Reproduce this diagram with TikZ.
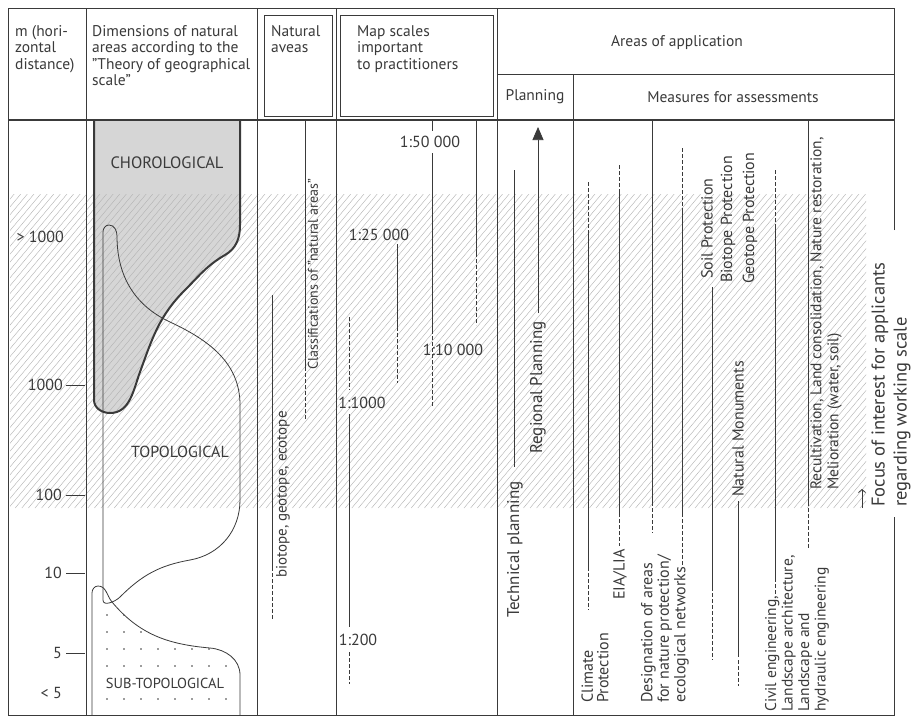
\documentclass[tikz,border=0pt]{standalone}
\usepackage{fontspec}
\setmainfont{PT Sans}
\usetikzlibrary{arrows.meta}
\definecolor{inkc}{HTML}{3A3A3A}
\definecolor{chfill}{HTML}{D6D6D6}
\definecolor{hatchc}{HTML}{B2B2B2}
\newcommand\hdrfont{\fontsize{15.5}{16.5}\selectfont}
\newcommand\axfont{\fontsize{16}{17}\selectfont}
\newcommand\vfont{\fontsize{16}{16.5}\selectfont}
\newcommand\bigfont{\fontsize{18.5}{22}\selectfont}
\begin{document}
\begin{tikzpicture}[x=1pt,y=-1pt,
  frame/.style={draw=inkc, line width=0.7pt},
  hdr/.style={text=inkc, font=\hdrfont, align=left, anchor=north west, inner sep=0pt},
  ctr/.style={text=inkc, font=\hdrfont, inner sep=0pt},
  axl/.style={text=inkc, font=\axfont, anchor=east, inner sep=0pt},
  scl/.style={text=inkc, font=\axfont, inner sep=0pt},
  vlab/.style={text=inkc, font=\vfont, rotate=90, anchor=west, align=left, inner sep=0pt},
  sl/.style={draw=inkc, line width=0.75pt},
  dl/.style={draw=inkc, line width=0.75pt, dash pattern=on 3.5pt off 2.5pt},
  thin/.style={draw=inkc, line width=0.8pt},
]
\useasboundingbox (0,0) rectangle (919,720);
\fill[white] (0,0) rectangle (919,720);

% ---------- chorological fill ----------
\def\chorpath{(94,120) -- (94,400) to[out=-90,in=180] (110,413) to[out=0,in=-110] (140,372) to[out=70,in=-135] (185,290) to[out=45,in=-150] (225,255) to[out=30,in=-90] (240,225) -- (240,120)}
\fill[chfill] \chorpath -- cycle;

% ---------- hatching ----------
\begin{scope}
  \clip (10,194) rectangle (866,508);
  \foreach \i in {0,...,175} {
    \draw[hatchc, line width=0.4pt] (-262+\i*6.6,508) -- ++(263,-314);
  }
\end{scope}

% ---------- frame ----------
\draw[frame] (894,230) -- (894,8) -- (8,8) -- (8,715) -- (894,715) -- (894,517);
\draw[draw=inkc, line width=1.3pt] (8,120) -- (894,120);
\draw[frame] (86,8) -- (86,715);
\draw[frame] (257,8) -- (257,715);
\draw[frame] (336,8) -- (336,715);
\draw[frame] (497,8) -- (497,715);
\draw[frame] (573,74) -- (573,715);
\draw[frame] (497,74) -- (894,74);
\draw[frame] (264,15) rectangle (332,116);
\draw[frame] (340,15) rectangle (493,116);

% ---------- header texts ----------
\node[hdr] (h1) at (15,25) {m (hori-\\zontal\\distance)};
\node[hdr] (h2) at (92,25) {Dimensions of natural\\areas according to the\\"Theory of geographical\\scale"};
\node[hdr] (h3) at (271,25) {Natural\\aveas};
\node[hdr] (h4) at (357,25) {Map scales\\important\\to practitioners};
\node[ctr] (h5) at (677,43) {Areas of application};
\node[ctr] (h6) at (535,97) {Planning};
\node[ctr] (h7) at (733,97) {Measures for assessments};

% ---------- axis ----------
\node[axl] (a1) at (64,237) {> 1000};
\node[axl] (a2) at (63,385) {1000};
\node[axl] (a3) at (62,495) {100};
\node[axl] (a4) at (62,573) {10};
\node[axl] (a5) at (62,653) {5};
\node[axl] (a6) at (62,693) {< 5};
\foreach \n/\y in {a2/385,a3/495,a4/573,a5/653} {
  \draw[thin] (66,\y) -- (85,\y);
}

% ---------- dimension shapes ----------
\draw[draw=inkc, line width=2pt, line join=round] \chorpath;
\node[text=inkc, font=\fontsize{16.5}{17}\selectfont, inner sep=0pt] (cho) at (167,163) {CHOROLOGICAL};
% topological loop
\draw[thin] (103,600) -- (103,232) to[out=90,in=180] (109,225) to[out=0,in=90] (117,236)
  to[out=-90,in=155] (170,322) to[out=-25,in=90] (240,405) -- (240,500)
  to[out=-90,in=10] (190,560) to[out=190,in=45] (120,597) to[out=225,in=-90] (103,600);
\node[text=inkc, font=\axfont, inner sep=0pt] (top) at (180,452) {TOPOLOGICAL};
% sub-topological
\def\subpath{(92,715) -- (92,593) to[out=90,in=180] (98,586) to[out=0,in=130] (112,602) to[out=-50,in=175] (210,648) to[out=-5,in=90] (240,675) -- (240,715)}
\begin{scope}
  \clip \subpath -- cycle;
  \foreach \x in {107,124,...,226} {
    \foreach \y in {615,632,649,666,699} {
      \fill[inkc] (\x,\y) circle (0.9pt);
    }
  }
\end{scope}
\draw[thin] \subpath;
\node[text=inkc, font=\fontsize{14.5}{15}\selectfont, fill=white, inner sep=1pt] (sub) at (165,683) {SUB-TOPOLOGICAL};

% ---------- natural areas ----------
\draw[sl] (272,295) -- (272,567);
\draw[dl] (272,567) -- (272,620);
\node[vlab, font=\fontsize{15}{16}\selectfont] (bio) at (283,578) {biotope, geotope, ecotope};
\draw[sl] (305,120) -- (305,367);
\draw[dl] (305,367) -- (305,420);
\node[vlab, font=\fontsize{14}{15}\selectfont] (cla) at (313,370) {Classifications of "natural areas"};

% ---------- map scales ----------
\node[scl] (s50) at (430,142) {1:50 000};
\draw[sl] (432,120) -- (432,131);
\draw[sl] (432,153) -- (432,330);
\draw[dl] (432,330) -- (432,407);
\draw[sl] (476,120) -- (476,253);
\draw[dl] (476,253) -- (476,325);
\node[scl] (s25) at (379,235) {1:25 000};
\draw[sl] (397,244) -- (397,327);
\draw[dl] (397,327) -- (397,383);
\node[scl] (s10) at (453,350) {1:10 000};
\node[scl] (s1k) at (362,403) {1:1000};
\draw[dl] (349,317) -- (349,390);
\draw[sl] (349,414) -- (349,627);
\node[scl] (s2) at (358,640) {1:200};
\draw[dl] (349,652) -- (349,684);

% ---------- planning ----------
\draw[sl] (514,170) -- (514,467);
\node[vlab, font=\fontsize{17}{18}\selectfont] (tec) at (515,618) {Technical planning};
\draw[sl, -{Triangle[width=11pt,length=13pt]}] (538,313) -- (538,127);
\node[vlab, font=\fontsize{17}{18}\selectfont] (reg) at (538,454) {Regional Planning};

% ---------- measures ----------
\draw[dl] (588,182) -- (588,230);
\draw[sl] (588,230) -- (588,567);
\draw[dl] (588,567) -- (588,610);
\node[vlab, font=\fontsize{16}{15.5}\selectfont] (cli) at (595,703) {Climate\\Protection};

\draw[dl] (619,165) -- (619,192);
\draw[sl] (619,192) -- (619,513);
\draw[dl] (619,513) -- (619,546);
\node[vlab] (eia) at (620,600) {EIA/LIA};

\draw[sl] (652,120) -- (652,502);
\draw[dl] (652,502) -- (652,533);
\draw[dl] (682,148) -- (682,208);
\draw[sl] (682,208) -- (682,513);
\draw[dl] (682,513) -- (682,565);
\node[vlab] (des) at (665,703) {Designation of areas\\for nature protection/\\ecological networks};

\draw[sl] (712,287) -- (712,587);
\draw[dl] (712,587) -- (712,660);
\node[vlab] (soil) at (707,279) {Soil Protection};
\node[vlab] (biop) at (728,283) {Biotope Protection};
\node[vlab] (geop) at (750,284) {Geotope Protection};

\node[vlab] (nat) at (738,497) {Natural Monuments};
\draw[sl] (738,501) -- (738,657);
\draw[dl] (738,660) -- (738,686);

\draw[dl] (775,170) -- (775,227);
\draw[sl] (775,227) -- (775,578);
\draw[dl] (775,578) -- (775,596);
\node[vlab, font=\fontsize{15.5}{16.5}\selectfont] (civ) at (797,712) {Civil engineering,\\Landscape architecture,\\Landscape and\\hydraulic engineering};

\draw[sl] (808,120) -- (808,502);
\draw[dl] (808,502) -- (808,548);
\node[vlab, font=\fontsize{15.5}{17}\selectfont] (rec) at (826,490) {Recultivation, Land consolidation, Nature restoration,\\Melioration (water, soil)};

\draw[draw=inkc, line width=0.8pt, -{Straight Barb[length=3pt,width=7pt]}] (862,508) -- (862,489);
\node[vlab, font=\bigfont] (foc) at (891,507) {Focus of interest for applicants\\regarding working scale};
\end{tikzpicture}
\end{document}
